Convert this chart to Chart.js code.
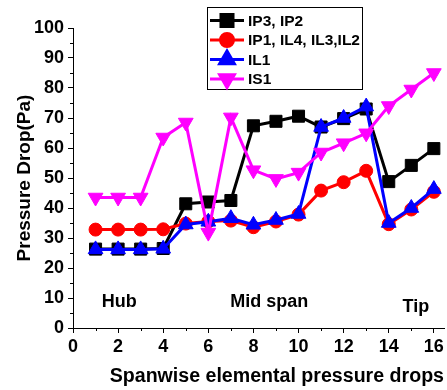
<!DOCTYPE html>
<html>
<head>
<meta charset="utf-8">
<script src="https://cdn.jsdelivr.net/npm/chart.js@4/dist/chart.umd.min.js"></script>
<style>
	html, body { margin: 0; padding: 0; background: #fff; }
	#wrap { width: 447px; height: 390px; }
</style>
</head>
<body>
<div id="wrap"><canvas id="chart" width="447" height="390"></canvas></div>
<script>
// Spanwise elemental pressure drops
const positions = [1, 2, 3, 4, 5, 6, 7, 8, 9, 10, 11, 12, 13, 14, 15, 16];
const ip3ip2 = [26.3, 26.3, 26.3, 26.5, 41.4, 42, 42.5, 67.4, 68.9, 70.6, 67, 69.8, 73, 48.8, 54.2, 59.8];
const ip1il4il3il2 = [32.8, 32.8, 32.8, 32.9, 34.8, 35.5, 35.8, 33.6, 35.5, 37.8, 45.8, 48.6, 52.4, 34.6, 39.5, 45.4];
const il1 = [26.2, 26.2, 26.2, 26.4, 34.5, 35.4, 36.6, 34.4, 36, 38, 67, 70, 73.8, 35, 40, 46.3];
const is1 = [43.5, 43.5, 43.5, 63.5, 68.5, 31.8, 70.2, 52.6, 49.7, 51.8, 58.5, 61.6, 64.9, 74, 79.5, 85];

const seriesNames = ['IP3, IP2', 'IP1, IL4, IL3,IL2', 'IL1', 'IS1'];
const xMajorTicks = [0, 2, 4, 6, 8, 10, 12, 14, 16];
const yMajorTicks = [0, 10, 20, 30, 40, 50, 60, 70, 80, 90, 100];

// Region labels inside the plot
const regionLabels = ['Hub', 'Mid span', 'Tip'];
const regionX = [2.05, 8.7, 15.2];
const regionY = [8.8, 8.8, 7.1];

const FONT = '"Liberation Sans", Arial, sans-serif';

const toPoints = (ys) => ys.map((y, i) => ({ x: positions[i], y }));

function makeSet(label, values, color, style, radius, rotation, order) {
	return {
		label,
		data: toPoints(values),
		borderColor: color,
		backgroundColor: color,
		borderWidth: 3,
		pointStyle: style,
		pointRadius: radius,
		pointRotation: rotation,
		pointBorderWidth: 1,
		pointBackgroundColor: color,
		pointBorderColor: color,
		tension: 0,
		order
	};
}

// Minor ticks, legend box and region text
const extrasPlugin = {
	id: 'extras',
	afterDraw(chart) {
		const ctx = chart.ctx;
		const xs = chart.scales.x;
		const ys = chart.scales.y;
		const area = chart.chartArea;
		ctx.save();

		// minor ticks
		ctx.strokeStyle = '#000';
		ctx.lineWidth = 1;
		for (let v = 1; v <= 15; v += 2) {
			const px = Math.round(xs.getPixelForValue(v)) + 0.5;
			ctx.beginPath();
			ctx.moveTo(px, area.bottom);
			ctx.lineTo(px, area.bottom + 3);
			ctx.stroke();
		}
		for (let v = 5; v < 100; v += 10) {
			const py = Math.round(ys.getPixelForValue(v)) + 0.5;
			ctx.beginPath();
			ctx.moveTo(area.left, py);
			ctx.lineTo(area.left - 3, py);
			ctx.stroke();
		}

		// region labels
		ctx.fillStyle = '#000';
		ctx.font = 'bold 18px ' + FONT;
		ctx.textAlign = 'center';
		ctx.textBaseline = 'middle';
		regionLabels.forEach((t, i) => {
			ctx.fillText(t, xs.getPixelForValue(regionX[i]), ys.getPixelForValue(regionY[i]));
		});

		// legend
		const box = { x: 207.5, y: 7.5, w: 155, h: 82 };
		ctx.fillStyle = '#fff';
		ctx.fillRect(box.x, box.y, box.w, box.h);
		ctx.strokeStyle = '#000';
		ctx.lineWidth = 1;
		ctx.strokeRect(box.x, box.y, box.w, box.h);
		ctx.font = 'bold 15.5px ' + FONT;
		ctx.textAlign = 'left';
		chart.data.datasets.forEach((ds, i) => {
			const y = 20.5 + i * 19.5;
			ctx.strokeStyle = ds.borderColor;
			ctx.lineWidth = 3;
			ctx.beginPath();
			ctx.moveTo(210, y);
			ctx.lineTo(244, y);
			ctx.stroke();
			Chart.helpers.drawPoint(ctx, {
				pointStyle: ds.pointStyle,
				radius: ds.pointRadius,
				rotation: ds.pointRotation,
				borderWidth: 1
			}, 227, y);
			ctx.fillStyle = ds.borderColor;
			ctx.fill();
			ctx.fillStyle = '#000';
			ctx.fillText(ds.label, 248, y + 1);
		});
		ctx.restore();
	}
};

new Chart(document.getElementById('chart'), {
	type: 'line',
	data: {
		datasets: [
			makeSet(seriesNames[0], ip3ip2, '#000000', 'rect', 8.5, 0, 4),
			makeSet(seriesNames[1], ip1il4il3il2, '#ff0000', 'circle', 6.5, 0, 3),
			makeSet(seriesNames[2], il1, '#0000ff', 'triangle', 8.5, 0, 2),
			makeSet(seriesNames[3], is1, '#ff00ff', 'triangle', 8.5, 180, 1)
		]
	},
	options: {
		responsive: false,
		animation: false,
		layout: { autoPadding: false, padding: { left: 0, top: 28, right: 3, bottom: 0 } },
		plugins: {
			legend: { display: false },
			tooltip: { enabled: false }
		},
		scales: {
			x: {
				type: 'linear',
				min: 0,
				max: 16.45,
				afterFit: (s) => { s.height = 62; s.paddingLeft = 0; s.paddingRight = 0; },
				afterBuildTicks: (s) => { s.ticks = xMajorTicks.map(v => ({ value: v })); },
				ticks: {
					color: '#000',
					padding: 3,
					maxRotation: 0,
					font: { family: FONT, size: 18, weight: 'bold' }
				},
				grid: { display: true, drawOnChartArea: false, drawTicks: true, tickLength: 5, color: '#000', tickColor: '#000' },
				border: { display: true, color: '#000', width: 1 },
				title: {
					display: true,
					text: 'Spanwise elemental pressure drops',
					align: 'end',
					color: '#000',
					padding: { top: 0, bottom: 2 },
					font: { family: FONT, size: 19.6, weight: 'bold' }
				}
			},
			y: {
				min: 0,
				max: 100,
				afterFit: (s) => { s.width = 73; s.paddingTop = 0; s.paddingBottom = 0; },
				afterBuildTicks: (s) => { s.ticks = yMajorTicks.map(v => ({ value: v })); },
				ticks: {
					color: '#000',
					padding: 4,
					font: { family: FONT, size: 18, weight: 'bold' }
				},
				grid: { display: true, drawOnChartArea: false, drawTicks: true, tickLength: 5, color: '#000', tickColor: '#000' },
				border: { display: true, color: '#000', width: 1 },
				title: {
					display: true,
					text: 'Pressure Drop(Pa)',
					color: '#000',
					padding: { top: 13.5, bottom: 0 },
					font: { family: FONT, size: 19, weight: 'bold' }
				}
			}
		}
	},
	plugins: [extrasPlugin]
});
</script>
</body>
</html>
